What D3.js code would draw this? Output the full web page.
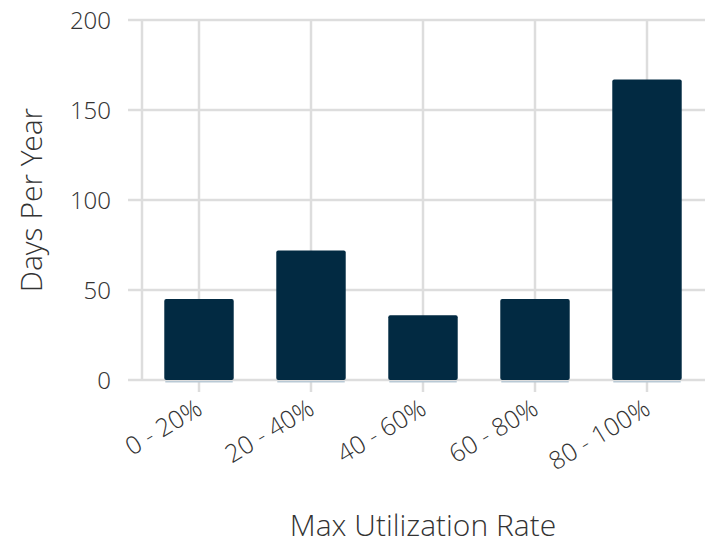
<!DOCTYPE html>
<html>
<head>
<meta charset="utf-8">
<script src="https://cdn.jsdelivr.net/npm/d3@7"></script>
<style>
  html, body { margin: 0; padding: 0; background: #fff; }
  svg text { font-family: "Open Sans Light", "Open Sans", "Noto Sans", sans-serif; font-weight: 300; fill: #333; }
</style>
</head>
<body>
<svg id="chart" width="705" height="545"></svg>
<script>
// Days per year spent in each max-utilization band
const categories = ["0 - 20%", "20 - 40%", "40 - 60%", "60 - 80%", "80 - 100%"];
const daysPerYear = [45, 72, 36, 45, 167];
const yTicks = [0, 50, 100, 150, 200];

const svg = d3.select("#chart");
const plot = { left: 143, right: 703, top: 20, bottom: 380 };

const x = d3.scaleBand().domain(categories).range([plot.left, plot.right]).paddingInner(0.38).paddingOuter(0.19);
const y = d3.scaleLinear().domain([0, 200]).range([plot.bottom, plot.top]);

const grid = "#dddddd";

// horizontal grid
svg.append("g").selectAll("line").data(yTicks).join("line")
  .attr("x1", 128).attr("x2", 705)
  .attr("y1", d => y(d)).attr("y2", d => y(d))
  .attr("stroke", grid).attr("stroke-width", 2.5);

// left edge line
svg.append("line")
  .attr("x1", plot.left - 1).attr("x2", plot.left - 1)
  .attr("y1", plot.top).attr("y2", plot.bottom)
  .attr("stroke", grid).attr("stroke-width", 2.5);

// vertical grid + tick marks at category centers
svg.append("g").selectAll("line").data(categories).join("line")
  .attr("x1", d => x(d) + x.bandwidth() / 2).attr("x2", d => x(d) + x.bandwidth() / 2)
  .attr("y1", plot.top).attr("y2", plot.bottom + 12)
  .attr("stroke", grid).attr("stroke-width", 2.5);

// y tick labels
svg.append("g").selectAll("text").data(yTicks).join("text")
  .attr("x", 111).attr("y", d => y(d))
  .attr("dy", "0.36em")
  .attr("text-anchor", "end")
  .attr("font-size", 24)
  .text(d => d);

// bars
const bars = svg.append("g");
bars.selectAll("rect.underline").data(categories).join("rect")
  .attr("class", "underline")
  .attr("x", d => x(d) + 1).attr("width", x.bandwidth() - 2)
  .attr("y", plot.bottom + 1).attr("height", 1.5)
  .attr("fill", "#b9c9d5");
bars.selectAll("rect.bar").data(categories).join("rect")
  .attr("class", "bar")
  .attr("x", d => x(d)).attr("width", x.bandwidth())
  .attr("y", (d, i) => y(daysPerYear[i]))
  .attr("height", (d, i) => y(0) - y(daysPerYear[i]))
  .attr("rx", 2).attr("ry", 2)
  .attr("fill", "#022a42");

// x tick labels, rotated
svg.append("g").selectAll("text").data(categories).join("text")
  .attr("transform", d => `translate(${x(d) + x.bandwidth() / 2 + 5},${plot.bottom + 33}) rotate(-31)`)
  .attr("text-anchor", "end")
  .attr("font-size", 25)
  .text(d => d);

// axis titles
svg.append("text")
  .attr("x", (plot.left + plot.right) / 2).attr("y", 536)
  .attr("text-anchor", "middle")
  .attr("font-size", 30)
  .text("Max Utilization Rate");

svg.append("text")
  .attr("transform", `translate(42,${(plot.top + plot.bottom) / 2}) rotate(-90)`)
  .attr("text-anchor", "middle")
  .attr("font-size", 30)
  .text("Days Per Year");
</script>
</body>
</html>
